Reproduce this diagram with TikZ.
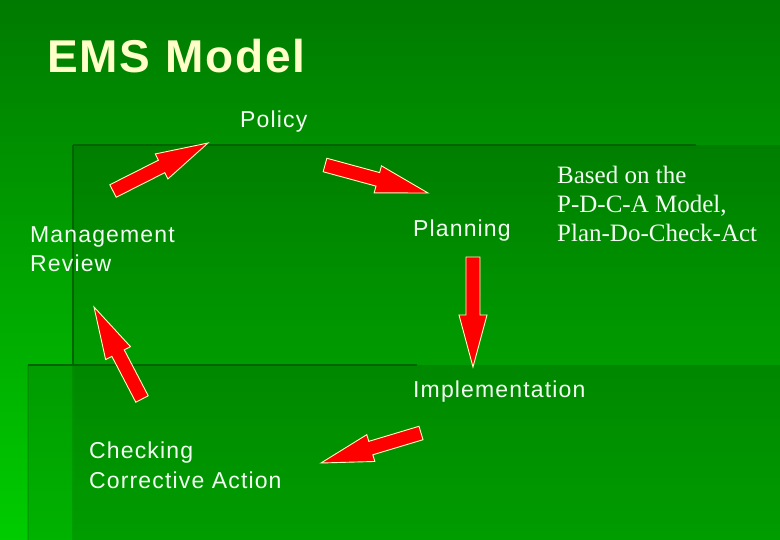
\documentclass[tikz,border=0pt]{standalone}
\usepackage{fontspec}
\setmainfont{Liberation Serif}
\setsansfont{Liberation Sans}[LetterSpace=5]
\newfontfamily\titlefont{Liberation Sans}[LetterSpace=4]
\usetikzlibrary{calc}
\definecolor{slidetop}{HTML}{007A00}
\definecolor{slidebot}{HTML}{00CC00}
\definecolor{slideline}{HTML}{006400}
\definecolor{titleyellow}{HTML}{FFFFC8}
\definecolor{labelwhite}{HTML}{F2FFF2}
\definecolor{arrowred}{HTML}{FF0000}
\definecolor{arrowedge}{HTML}{FFFFC0}

% block arrow from tail coordinate #1 to tip coordinate #2
\newcommand{\blockarrow}[2]{%
  \path ($(#2)!52pt!(#1)$) coordinate (#1-head);
  \filldraw[blockarr]
    ($(#1)!7pt!90:(#2)$) -- ($(#1-head)!7pt!90:(#2)$) -- ($(#1-head)!14pt!90:(#2)$)
    -- (#2) -- ($(#1-head)!14pt!-90:(#2)$) -- ($(#1-head)!7pt!-90:(#2)$)
    -- ($(#1)!7pt!-90:(#2)$) -- cycle;}

\begin{document}
\begin{tikzpicture}[
    x=1pt, y=-1pt,
    label/.style={font=\sffamily\fontsize{23}{29.5}\selectfont, text=labelwhite,
      inner sep=0pt, anchor=base west, align=left},
    note/.style={label, font=\rmfamily\fontsize{25}{29}\selectfont},
    blockarr/.style={fill=arrowred, draw=arrowedge, line width=0.9pt, line join=miter},
    frame/.style={slideline, line width=2.5pt}
  ]
    \useasboundingbox (0,0) rectangle (780,540);
    \shade[top color=slidetop, bottom color=slidebot] (0,0) rectangle (780,540);
    \fill[black, opacity=0.12] (74,145) rectangle (780,540);
    \fill[black, opacity=0.12] (28,365) rectangle (780,540);
    \draw[frame] (73,145) -- (696,145);
    \draw[frame] (73,145) -- (73,365);
    \draw[frame] (28,365) -- (417,365);
    \draw[frame, opacity=0.25, line width=1.5pt] (73,365) -- (73,540);
    \draw[frame, opacity=0.25, line width=1.5pt] (28,365) -- (28,540);

    % multi-line nodes sit on the baseline of their last line
    \node[inner sep=0pt, anchor=base west, text=titleyellow,
      font=\titlefont\bfseries\fontsize{46}{50}\selectfont] (title) at (47,73) {EMS Model};
    \node[label] (policy) at (240,128) {Policy};
    \node[label] (review) at (30,272) {Management\\Review};
    \node[label] (planning) at (413,237) {Planning};
    \node[note] (pdca) at (557,242) {Based on the\\P-D-C-A Model,\\Plan-Do-Check-Act};
    \node[label] (implementation) at (413,398) {Implementation};
    \node[label] (checking) at (89,488) {Checking\\Corrective Action};

    \coordinate (reviewout) at (113,191);  \coordinate (policyin) at (208,143);
    \coordinate (policyout) at (325,165);  \coordinate (planningin) at (428,193);
    \coordinate (planningout) at (473,257); \coordinate (implin) at (473,367);
    \coordinate (implout) at (421,433);    \coordinate (checkingin) at (321,463);
    \coordinate (checkingout) at (142,399); \coordinate (reviewin) at (94,307);

    \blockarrow{reviewout}{policyin}
    \blockarrow{policyout}{planningin}
    \blockarrow{planningout}{implin}
    \blockarrow{implout}{checkingin}
    \blockarrow{checkingout}{reviewin}
\end{tikzpicture}
\end{document}
